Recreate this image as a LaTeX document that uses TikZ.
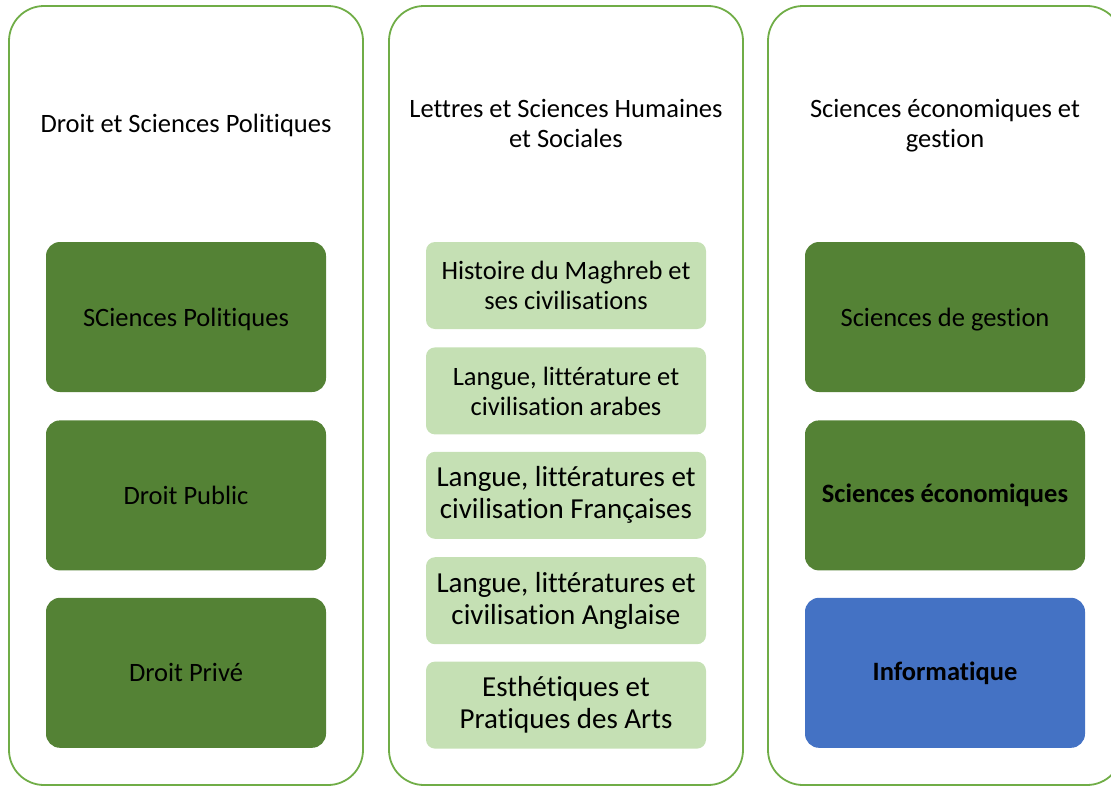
\documentclass[tikz,border=0pt]{standalone}
\usepackage{fontspec}
\setmainfont{Carlito}[RawFeature={-liga;-clig;-calt}]
\usepackage{tikz}
\usetikzlibrary{positioning}

\definecolor{frameGreen}{HTML}{70AD47}
\definecolor{darkGreen}{HTML}{548235}
\definecolor{lightGreen}{HTML}{C5E0B4}
\definecolor{infoBlue}{HTML}{4472C4}

\begin{document}
\begin{tikzpicture}[x=1pt, y=-1pt,
	column/.style={draw=frameGreen, line width=1.8pt, rounded corners=35pt, minimum width=354pt, minimum height=779pt},
	title/.style={align=center, font=\fontsize{26.5}{30}\selectfont},
	bigbox/.style={rounded corners=14pt, minimum width=280pt, minimum height=150pt, align=center, font=\fontsize{26.5}{30}\selectfont},
	smallbox/.style={fill=lightGreen, rounded corners=9pt, minimum width=280pt, minimum height=87pt, align=center, font=\fontsize{26.5}{30}\selectfont},
	node distance=18pt]
	\clip (0,0) rectangle (1111,787);
	\useasboundingbox (0,0) rectangle (1111,787);

	% colonnes
	\node[column] (droit) at (186,395.5) {};
	\node[column] (lettres) at (566,395.5) {};
	\node[column] (eco) at (945,395.5) {};

	\node[title] (tdroit) at (186,125) {Droit et Sciences Politiques};
	\node[title] (tlettres) at (566,123) {Lettres et Sciences Humaines\\et Sociales};
	\node[title] (teco) at (945,126) {Sciences économiques et\\gestion};

	% Droit
	\node[bigbox, fill=darkGreen, text depth=0pt] (polit) at (186,317) {SCiences Politiques};
	\node[bigbox, fill=darkGreen, below=28pt of polit] (public) {Droit Public};
	\node[bigbox, fill=darkGreen, below=27pt of public] (prive) {Droit Privé};

	% Lettres
	\node[smallbox] (histoire) at (566,285.5) {Histoire du Maghreb et\\ses civilisations};
	\node[smallbox, below=18pt of histoire] (arabe) {Langue, littérature et\\civilisation arabes};
	\node[smallbox, below=17pt of arabe, font=\fontsize{29}{32}\selectfont] (francais) {Langue, littératures et\\civilisation Françaises};
	\node[smallbox, below=18pt of francais, font=\fontsize{29}{32}\selectfont] (anglais) {Langue, littératures et\\civilisation Anglaise};
	\node[smallbox, below=17pt of anglais, font=\fontsize{29}{32}\selectfont] (arts) {Esthétiques et\\Pratiques des Arts};

	% Eco
	\node[bigbox, fill=darkGreen, text depth=0pt] (gestion) at (945,317) {Sciences de gestion};
	\node[bigbox, fill=darkGreen, below=28pt of gestion, font=\fontsize{26.5}{30}\selectfont\bfseries] (econ) {Sciences économiques};
	\node[bigbox, fill=infoBlue, below=27pt of econ, font=\fontsize{26.5}{30}\selectfont\bfseries] (info) {Informatique};
\end{tikzpicture}
\end{document}
